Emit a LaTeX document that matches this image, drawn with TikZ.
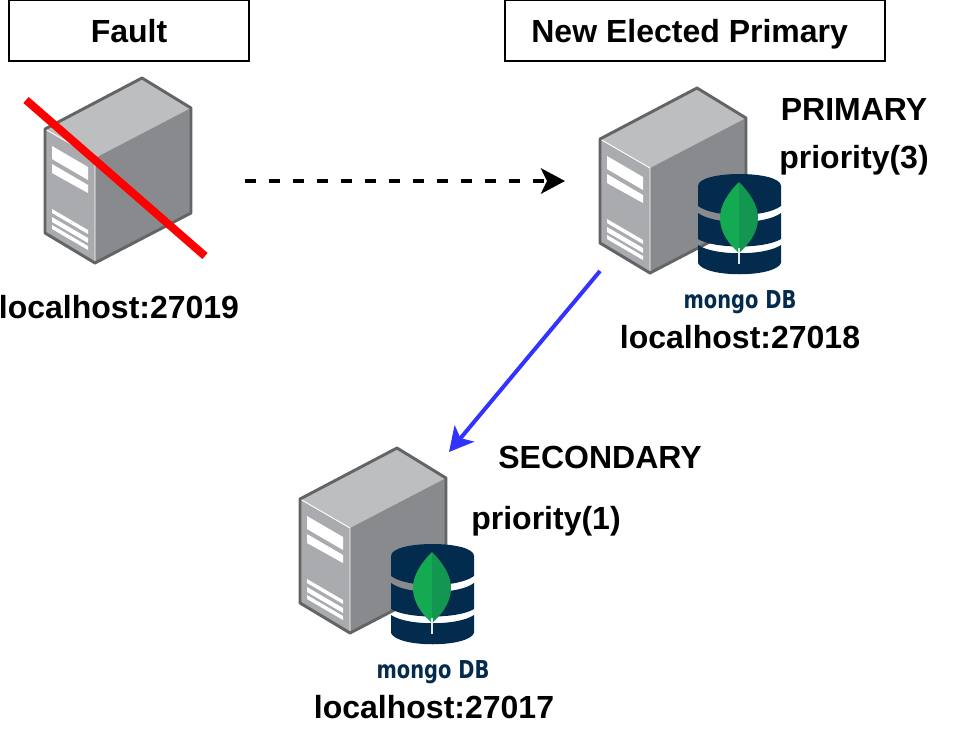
\documentclass[tikz,border=0pt]{standalone}
\usepackage{fontspec}
\setmainfont{Liberation Sans}
\newfontfamily\mongofont{DejaVu Sans}
\usetikzlibrary{arrows.meta}
\definecolor{srvtop}{HTML}{BCBEC0}
\definecolor{srvleft}{HTML}{A9ABAE}
\definecolor{srvright}{HTML}{898A8D}
\definecolor{srvline}{HTML}{636466}
\definecolor{dbnavy}{HTML}{032B4E}
\definecolor{leaflight}{HTML}{13AA52}
\definecolor{leafdark}{HTML}{139650}
\tikzset{
    pics/serverbox/.style={
        code={
            \fill[srvtop] (0,51) -- (97,0) -- (146,30) -- (50,80) -- cycle;
            \fill[srvright] (50,80) -- (146,30) -- (146,135) -- (50,185) -- cycle;
            \fill[srvleft] (0,51) -- (50,80) -- (50,185) -- (0,155) -- cycle;
            \draw[white,line width=0.7pt] (0,51) -- (50,80) -- (50,185);
            \draw[srvline,line width=2.2pt,line join=round] (0,51) -- (97,0) -- (146,30) -- (146,135) -- (50,185) -- (0,155) -- cycle;
            \fill[white] (7,68) -- (43,89) -- (43,102) -- (7,81) -- cycle;
            \fill[white] (7,86) -- (43,107) -- (43,115) -- (7,95) -- cycle;
            \fill[white] (7,131) -- (43,152) -- (43,156) -- (7,135) -- cycle;
            \fill[white] (7,139) -- (43,160) -- (43,165) -- (7,144) -- cycle;
            \fill[white] (7,147) -- (43,168) -- (43,172) -- (7,151) -- cycle;
        }
    },
    pics/mongobox/.style={
        code={
            \fill[dbnavy] (98,98) .. controls (98,82) and (181,82) .. (181,98) -- (181,118)
                .. controls (165,130) and (114,130) .. (98,118) -- cycle;
            \fill[dbnavy] (98,125) .. controls (114,137) and (165,137) .. (181,125) -- (181,151)
                .. controls (165,161) and (114,161) .. (98,151) -- cycle;
            \fill[dbnavy] (98,157) .. controls (114,168) and (165,168) .. (181,157) -- (181,175)
                .. controls (175,190) and (104,190) .. (98,175) -- cycle;
            \fill[leaflight] (139,94) .. controls (127,106) and (120,118) .. (120,130)
                .. controls (120,146) and (131,158) .. (139,165) -- cycle;
            \fill[leafdark] (139,94) .. controls (151,106) and (158,118) .. (158,130)
                .. controls (158,146) and (147,158) .. (139,165) -- cycle;
            \draw[white!80!gray,line width=1pt] (139,160) -- (139,176);
            \node[mongotext] (-logo) at (140,214) {mongo DB};
        }
    }
}
\begin{document}
\begin{tikzpicture}[x=0.75pt,y=-0.75pt,
      every node/.style={font=\bfseries\fontsize{24}{28}\selectfont,inner sep=0pt},
      titlebox/.style={draw,line width=1.3pt,minimum height=45.5pt,text height=23pt,text depth=5pt},
      mongotext/.style={font=\mongofont\bfseries\fontsize{18.5}{20}\selectfont,text=dbnavy,xscale=0.79},
      faultline/.style={red,line width=6pt},
      failover/.style={line width=3pt,dash pattern=on 8.5pt off 9.5pt,-{Stealth[length=18pt,width=19pt,inset=4.5pt]}},
      replicate/.style={color=blue!80!white,line width=3pt,-{Stealth[length=18pt,width=19pt,inset=4.5pt]}}]
    \useasboundingbox (0,0) rectangle (968,736);
    \pic (faulty) at (45,78) {serverbox};
    \pic (newprimary) at (600,88) {serverbox};
    \pic (newprimarydb) at (600,88) {mongobox};
    \pic (secondary) at (300,448) {serverbox};
    \pic (secondarydb) at (293,458) {mongobox};
    \node[titlebox,minimum width=180pt] (faulttitle) at (129,30.5) {Fault};
    \node[titlebox,minimum width=285pt] (primarytitle) at (695,30.5) {New Elected Primary\kern8pt};
    \coordinate (crossa) at (26,100);
    \coordinate (crossb) at (205,256);
    \draw[faultline] (crossa) -- (crossb);
    \node (faultaddr) at (119,307) {localhost:27019};
    \node (primaryaddr) at (740,337) {localhost:27018};
    \node (secondaryaddr) at (434,707) {localhost:27017};
    \node (primaryrole) at (854,109) {PRIMARY};
    \node (primaryprio) at (854,160.5) {priority(3)};
    \node (secondaryrole) at (600,457) {SECONDARY};
    \node (secondaryprio) at (546,521) {priority(1)};
    \coordinate (failstart) at (245,181);
    \coordinate (failend) at (565,181);
    \coordinate (repstart) at (600,271);
    \coordinate (repend) at (449,452);
    \draw[failover] (failstart) -- (failend);
    \draw[replicate] (repstart) -- (repend);
  \end{tikzpicture}
\end{document}
